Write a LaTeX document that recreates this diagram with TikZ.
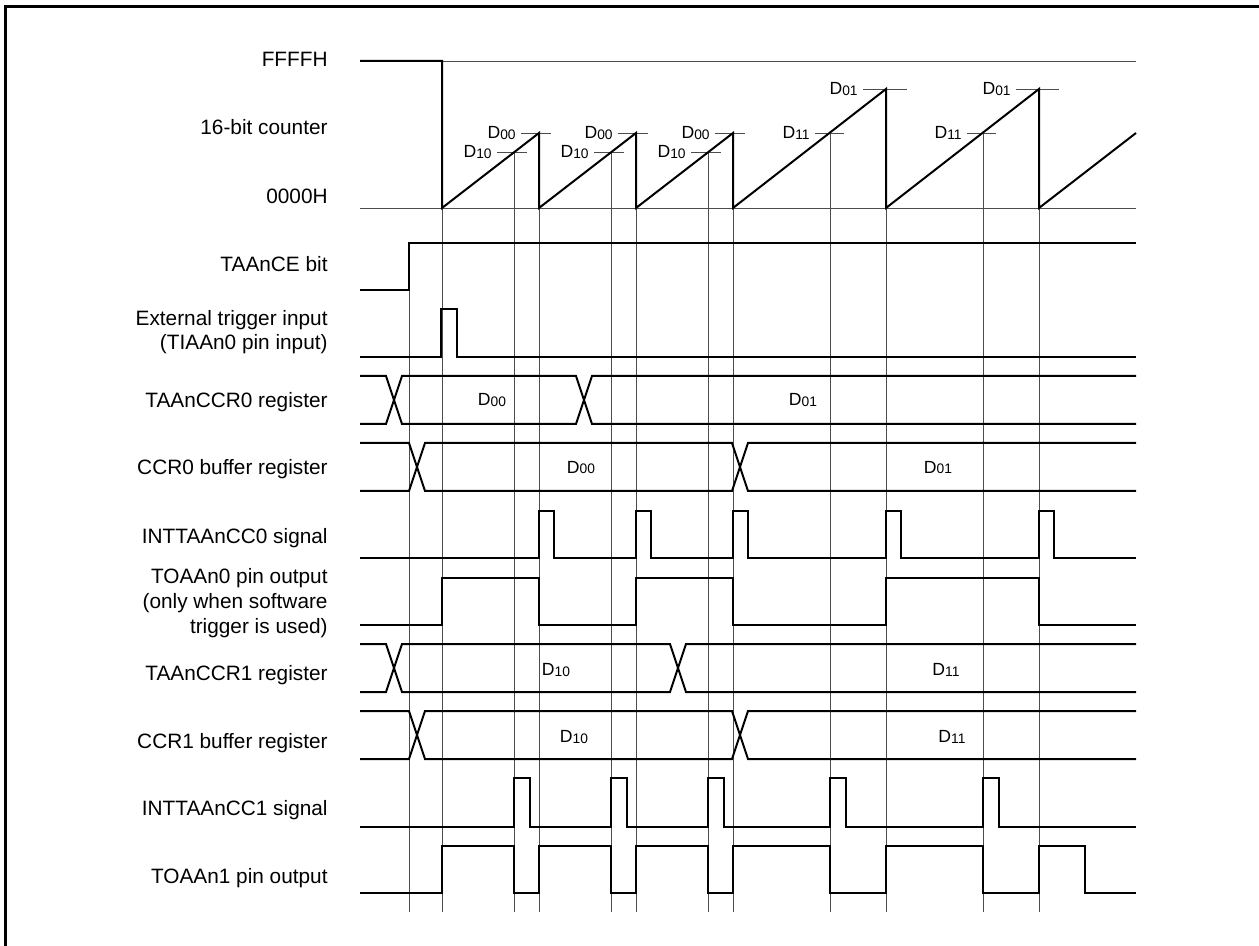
\documentclass[tikz,border=0pt]{standalone}
\usepackage{fontspec}
\setmainfont{Liberation Sans}
\newcommand{\dval}[1]{D\raisebox{-0.35pt}{\fontsize{6.9}{7}\selectfont #1}}
\begin{document}
\begin{tikzpicture}[x=0.5pt, y=-0.5pt,
    sig/.style={line width=1pt, line join=miter},
    guide/.style={line width=0.45pt, black!70},
    lab/.style={anchor=base east, inner sep=0pt, font=\fontsize{10.4}{12}\selectfont},
    val/.style={inner sep=0pt, font=\fontsize{8.8}{10}\selectfont}]
    \useasboundingbox (0,0) rectangle (1259,946);

    % Frame
    \draw[line width=1.4pt] (5.5,6.5) rectangle (1280,970);

    % Signal names
    \node[lab] (ffff)  at (328,66.7)  {FFFFH};
    \node[lab] (cnt)   at (328,135)   {16-bit counter};
    \node[lab] (zero)  at (328,203.3) {0000H};
    \node[lab] (ce)    at (328,271.7) {TAAnCE bit};
    \node[lab] (trgA)  at (328,325.7) {External trigger input};
    \node[lab] (trgB)  at (328,350)   {(TIAAn0 pin input)};
    \node[lab] (ccrz)  at (328,407.3) {TAAnCCR0 register};
    \node[lab] (bufz)  at (328,475)   {CCR0 buffer register};
    \node[lab] (intz)  at (328,543.3) {INTTAAnCC0 signal};
    \node[lab] (outzA) at (328,583.3) {TOAAn0 pin output};
    \node[lab] (outzB) at (328,608.3) {(only when software};
    \node[lab] (outzC) at (328,633.3) {trigger is used)};
    \node[lab] (ccro)  at (328,680)   {TAAnCCR1 register};
    \node[lab] (bufo)  at (328,748.3) {CCR1 buffer register};
    \node[lab] (into)  at (328,815.7) {INTTAAnCC1 signal};
    \node[lab] (outo)  at (328,883.3) {TOAAn1 pin output};

    % Timing guides
    \foreach \x/\y in {409/290, 442/208, 514/152, 539/133, 611/152, 636/133,
                       708/152, 733/133, 830/133, 886/89, 983/133, 1039/89} {
        \draw[guide] (\x,\y) -- (\x,912);
    }

    % Counter limits
    \draw[guide] (442,61) -- (1136,61);
    \draw[guide] (360,208) -- (1136,208);

    % Compare levels
    \foreach \x/\y/\l/\r/\t [count=\i] in {514/152/17/13/10, 539/133/18/12/00,
            611/152/17/13/10, 636/133/18/12/00, 708/152/17/13/10, 733/133/18/12/00,
            830/133/15/14/11, 886/89/23/21/01, 983/133/16/13/11, 1039/89/23/20/01} {
        \draw[guide] (\x-\l,\y) -- (\x+\r,\y);
        \node[val, anchor=east] (lvl\i) at (\x-\l-5,\y) {\dval{\t}};
    }

    % 16-bit counter
    \draw[sig] (360,61) -- (442,61) -- (442,208)
        \foreach \p in {539, 636, 733} { -- (\p,133) -- (\p,208) }
        \foreach \p in {886, 1039} { -- (\p,89) -- (\p,208) } -- (1136,133);

    % TAAnCE bit
    \draw[sig] (360,290) -- (409,290) -- (409,243) -- (1136,243);

    % External trigger input
    \draw[sig] (360,357) -- (441,357) -- (441,309) -- (457,309) -- (457,357) -- (1136,357);

    % Registers
    \foreach \t/\b/\a/\c in {376/424/386/576, 443/491/409/732,
                             644/692/386/670, 711/759/409/732} {
        \draw[sig] (360,\t) -- (\a,\t) -- (\a+16,\b) -- (\c,\b) -- (\c+16,\t) -- (1136,\t);
        \draw[sig] (360,\b) -- (\a,\b) -- (\a+16,\t) -- (\c,\t) -- (\c+16,\b) -- (1136,\b);
    }
    \node[val] (ccrzA) at (492,400)   {\dval{00}};
    \node[val] (ccrzB) at (803,400)   {\dval{01}};
    \node[val] (bufzA) at (581,467.5) {\dval{00}};
    \node[val] (bufzB) at (938,467.5) {\dval{01}};
    \node[val] (ccroA) at (556,670)   {\dval{10}};
    \node[val] (ccroB) at (946,670)   {\dval{11}};
    \node[val] (bufoA) at (574,737)   {\dval{10}};
    \node[val] (bufoB) at (952,737)   {\dval{11}};

    % INTTAAnCC0 signal
    \draw[sig] (360,558) \foreach \p in {539, 636, 733, 886, 1039} {
        -- (\p,558) -- (\p,511) -- (\p+15,511) -- (\p+15,558) } -- (1136,558);

    % TOAAn0 pin output
    \draw[sig] (360,625) \foreach \u/\d in {442/539, 636/733, 886/1039} {
        -- (\u,625) -- (\u,578) -- (\d,578) -- (\d,625) } -- (1136,625);

    % INTTAAnCC1 signal
    \draw[sig] (360,827) \foreach \p in {514, 611, 708, 830, 983} {
        -- (\p,827) -- (\p,778) -- (\p+16,778) -- (\p+16,827) } -- (1136,827);

    % TOAAn1 pin output
    \draw[sig] (360,893) \foreach \u/\d in {442/514, 539/611, 636/708, 733/830, 886/983, 1039/1085} {
        -- (\u,893) -- (\u,846) -- (\d,846) -- (\d,893) } -- (1136,893);
\end{tikzpicture}
\end{document}
